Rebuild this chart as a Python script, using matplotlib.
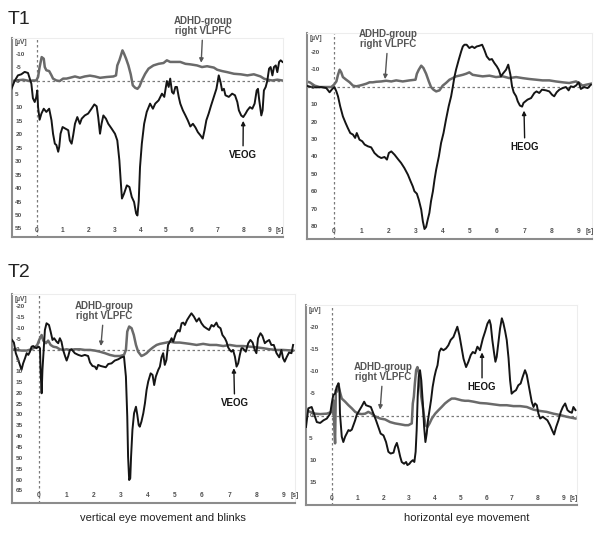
import matplotlib
matplotlib.use("Agg")
import matplotlib.pyplot as plt

plt.rcParams['font.family'] = ['Liberation Sans', 'DejaVu Sans']

# ---- T1, vertical eye movement (values in s / µV, negative up) ----
t1v_t = [-0.99, -0.87, -0.74, -0.61, -0.48, -0.35, -0.22, -0.16, -0.09, -0.03, 0.01, 0.04, 0.10, 0.17, 0.26,
         0.36, 0.47, 0.56, 0.62, 0.69, 0.75, 0.82, 0.86, 0.91, 0.99, 1.08, 1.21, 1.27, 1.34, 1.40, 1.47, 1.56,
         1.66, 1.73, 1.85, 1.98, 2.11, 2.22, 2.31, 2.37, 2.44, 2.50, 2.57, 2.67, 2.76, 2.89, 3.02, 3.11, 3.19,
         3.24, 3.29, 3.37, 3.48, 3.58, 3.67, 3.76, 3.84, 3.89, 3.94, 3.99, 4.06, 4.15, 4.25, 4.38, 4.49, 4.58,
         4.71, 4.84, 4.93, 5.03, 5.10, 5.16, 5.23, 5.29, 5.36, 5.42, 5.49, 5.55, 5.65, 5.75, 5.84, 5.94, 6.04,
         6.14, 6.23, 6.33, 6.42, 6.49, 6.56, 6.65, 6.74, 6.85, 6.95, 7.04, 7.11, 7.17, 7.24, 7.30, 7.43, 7.56,
         7.67, 7.76, 7.82, 7.91, 7.99, 8.08, 8.15, 8.25, 8.34, 8.43, 8.51, 8.56, 8.61, 8.69, 8.74, 8.79, 8.86,
         8.92, 8.99, 9.05, 9.12, 9.18, 9.25, 9.31, 9.38, 9.44, 9.51]
t1v_eog = [2.9, 0, -2.1, -2.5, -3.4, -3.0, 1.0, 6.4, 7.8, 6.0, 3.5, 9.7, 14.4, 12.1, 10.3,
           11.5, 10.3, 14.6, 19.6, 23.3, 23.8, 26.3, 24.5, 19.6, 17.1, 17.6, 18.3, 22.1, 23.3, 20.2, 15.9, 13.4,
           15.9, 14.0, 12.8, 12.1, 10.3, 8.7, 9.4, 13.4, 19.6, 15.9, 12.8, 14.0, 15.9, 17.7, 19.6, 22.1, 29.5,
           36.9, 43.7, 41.9, 38.8, 39.4, 43.1, 45.0, 49.3, 50.0, 44.6, 32.0, 23.3, 15.9, 11.5, 8.4, 10.3, 8.4,
           7.2, 4.7, 5.9, 0, 2.2, -0.9, 4.1, 4.7, 2.2, 2.2, 5.9, 8.4, 10.9, 12.8, 14.6, 16.9, 15.9,
           17.3, 19.0, 20.2, 21.4, 18.3, 14.6, 12.1, 9.2, 5.9, 2.9, -2.1, 0.4, 3.5, 2.9, 5.3, 5.9, 4.7,
           5.3, 7.8, 10.9, 12.8, 13.4, 12.1, 10.9, 9.7, 10.3, 8.4, 3.5, 2.9, 7.2, 12.8, 10.9, 3.5, 2.2,
           0, -4.6, -5.2, -2.1, -5.2, -5.8, -3.3, -7.1, -7.7, -7.1]
t1v_grp_t = [-0.99, -0.80, -0.54, -0.29, -0.16, -0.03, 0.04, 0.10, 0.18, 0.26, 0.30, 0.36, 0.47, 0.56, 0.62,
             0.75, 0.88, 1.01, 1.14, 1.27, 1.47, 1.66, 1.85, 2.05, 2.24, 2.44, 2.70, 2.96, 3.06, 3.11, 3.19,
             3.24, 3.31, 3.37, 3.45, 3.54, 3.63, 3.71, 3.80, 3.89, 3.97, 4.06, 4.19, 4.32, 4.51, 4.71, 4.90,
             5.03, 5.16, 5.36, 5.55, 5.75, 5.94, 6.20, 6.39, 6.59, 6.85, 6.98, 7.17, 7.37, 7.63, 7.89, 8.15,
             8.40, 8.66, 8.79, 8.92, 9.12, 9.31, 9.51]
t1v_grp = [0, -0.2, -0.5, 0, -0.2, -0.2, -1.5, -5.2, -8.9, -8.3, -5.2, -4.0, -3.7, -2.1, -0.9,
           -0.2, 0, -0.9, -0.9, -1.2, -1.7, -1.2, -1.7, -2.0, -1.7, -1.2, -1.5, -1.7, -2.1, -5.8, -7.7,
           -9.2, -11.4, -10.2, -8.3, -5.8, -2.5, 1.6, 2.5, 2.9, 2.0, -0.2, -2.7, -4.6, -5.8, -6.4, -6.7,
           -7.7, -7.1, -7.1, -7.1, -6.4, -6.2, -5.8, -5.2, -5.5, -5.0, -4.2, -3.7, -3.3, -2.7, -2.5, -2.1,
           -2.5, -1.7, -0.9, -0.5, -0.2, -0.5, -0.2]

# ---- T1, horizontal eye movement ----
t1h_t = [-1.02, -0.83, -0.65, -0.47, -0.28, -0.16, -0.06, 0.02, 0.09, 0.15, 0.23, 0.33, 0.43, 0.51, 0.60,
         0.70, 0.78, 0.84, 0.94, 1.04, 1.13, 1.25, 1.37, 1.49, 1.62, 1.74, 1.86, 1.95, 2.02, 2.11, 2.23,
         2.35, 2.47, 2.59, 2.72, 2.82, 2.90, 2.96, 3.05, 3.12, 3.21, 3.27, 3.33, 3.39, 3.45, 3.51, 3.57,
         3.64, 3.70, 3.76, 3.86, 3.94, 4.03, 4.12, 4.22, 4.31, 4.37, 4.43, 4.49, 4.59, 4.68, 4.74, 4.80,
         4.88, 4.98, 5.08, 5.17, 5.25, 5.35, 5.45, 5.53, 5.62, 5.72, 5.81, 5.90, 5.99, 6.06, 6.14, 6.23,
         6.33, 6.41, 6.49, 6.55, 6.61, 6.70, 6.76, 6.84, 6.92, 6.97, 7.04, 7.12, 7.25, 7.37, 7.45, 7.55,
         7.65, 7.80, 7.92, 8.02, 8.10, 8.19, 8.29, 8.41, 8.53, 8.63, 8.71, 8.80, 8.90, 9.00, 9.08, 9.20,
         9.33, 9.45]
t1h_eog = [-0.8, 0, 0.2, 0, 0.6, 3.0, 1.1, 0, 2.5, 5.3, 11.0, 16.8, 20.6, 23.4, 26.3,
           27.2, 29.1, 26.3, 30.1, 31.0, 32.9, 33.9, 34.5, 37.7, 39.6, 40.6, 40.0, 41.5, 37.7, 36.8, 38.7,
           41.1, 43.4, 46.3, 50.1, 53.9, 56.8, 59.6, 61.0, 64.4, 70.1, 76.8, 81.2, 80.0, 75.8, 72.0, 65.3,
           59.6, 52.9, 47.2, 39.6, 32.0, 26.3, 18.7, 11.0, 5.3, 0, -5.7, -9.9, -15.6, -20.4, -23.2, -24.2,
           -24.2, -22.3, -23.2, -22.3, -23.2, -23.6, -24.2, -21.3, -17.5, -15.6, -16.0, -13.7, -11.8, -9.9, -6.1, -8.0,
           -9.9, -12.8, -7.0, -0.4, 3.0, 5.3, 8.2, 10.6, 11.2, 9.1, 8.2, 7.2, 6.3, 3.4, 2.5, 3.4,
           1.5, 1.9, 2.5, 4.4, 5.3, 3.0, 1.5, 0.6, 0, 1.9, -0.4, 0, -0.8, -2.7, 1.1, 0,
           0.6, -1.3]
t1h_grp_t = [-1.02, -0.89, -0.71, -0.53, -0.28, -0.10, 0.00, 0.09, 0.15, 0.21, 0.27, 0.33, 0.45, 0.58, 0.70,
             0.82, 0.94, 1.06, 1.19, 1.31, 1.43, 1.55, 1.74, 1.92, 2.11, 2.29, 2.53, 2.78, 3.00, 3.05, 3.12,
             3.21, 3.29, 3.39, 3.49, 3.57, 3.66, 3.76, 3.88, 4.00, 4.12, 4.25, 4.37, 4.49, 4.61, 4.74, 4.86,
             4.98, 5.10, 5.29, 5.47, 5.72, 5.96, 6.21, 6.45, 6.70, 6.94, 7.18, 7.43, 7.67, 7.92, 8.16, 8.41,
             8.65, 8.90, 9.02, 9.14, 9.27, 9.45]
t1h_grp = [-3.2, -2.7, -0.8, 0, 0, 0, -1.3, -3.2, -7.0, -9.9, -8.4, -5.7, -4.2, -2.7, -0.8,
           -0.4, -0.8, -1.3, -1.9, -2.7, -2.7, -3.0, -3.2, -3.6, -3.2, -3.8, -3.2, -3.8, -4.2, -7.6, -9.9,
           -12.2, -10.9, -7.6, -3.2, 0, 1.5, 2.5, 1.9, -0.8, -2.3, -4.2, -5.1, -6.1, -6.5, -7.0, -7.6,
           -8.4, -7.0, -6.5, -6.1, -6.5, -5.7, -6.1, -5.1, -5.7, -5.1, -4.6, -4.2, -3.8, -3.8, -3.2, -2.7,
           -2.3, -3.2, -2.3, -0.8, -1.3, -1.9]

# ---- T2, vertical eye movement and blinks ----
t2v_t = [-0.99, -0.92, -0.85, -0.76, -0.70, -0.64, -0.58, -0.51, -0.45, -0.39, -0.33, -0.27, -0.21, -0.15, -0.09,
         -0.02, 0.04, 0.06, 0.10, 0.13, 0.18, 0.22, 0.28, 0.37, 0.43, 0.50, 0.56, 0.65, 0.71, 0.77, 0.83,
         0.89, 0.96, 1.02, 1.08, 1.14, 1.20, 1.32, 1.45, 1.57, 1.69, 1.81, 1.88, 1.97, 2.06, 2.12, 2.18,
         2.27, 2.37, 2.46, 2.55, 2.67, 2.79, 2.92, 3.04, 3.13, 3.20, 3.25, 3.28, 3.32, 3.36, 3.39, 3.44,
         3.50, 3.57, 3.62, 3.67, 3.71, 3.77, 3.84, 3.90, 3.96, 4.02, 4.11, 4.18, 4.24, 4.30, 4.39, 4.45,
         4.51, 4.57, 4.63, 4.69, 4.75, 4.82, 4.88, 4.94, 5.04, 5.12, 5.18, 5.25, 5.31, 5.37, 5.45, 5.53,
         5.61, 5.70, 5.80, 5.89, 5.98, 6.07, 6.16, 6.26, 6.35, 6.43, 6.53, 6.59, 6.68, 6.75, 6.84, 6.90,
         6.96, 7.02, 7.08, 7.14, 7.21, 7.27, 7.33, 7.39, 7.45, 7.50, 7.61, 7.70, 7.78, 7.86, 7.94, 8.00,
         8.06, 8.15, 8.22, 8.31, 8.37, 8.47, 8.55, 8.64, 8.74, 8.84, 8.92, 8.98, 9.04, 9.11, 9.20, 9.29,
         9.35]
t2v_eog = [-4.6, -3.4, 1.5, 4.6, 6.9, 9.2, 6.2, 3.8, 1.5, 2.3, 0.8, -1.5, -1.8, -1.2, -0.8,
           -1.5, -0.8, 9.2, 20.0, 9.2, -1.5, -9.2, -12.3, -11.5, -8.5, -4.6, -5.4, -3.8, -3.1, -5.4, -3.8,
           0, 2.8, 4.9, 2.8, 0, -0.3, 1.5, 2.3, 2.8, 2.3, 2.8, 5.8, 7.4, 7.7, 8.9, 6.9,
           7.4, 7.7, 8.0, 6.5, 6.2, 4.9, 4.3, 3.4, 3.1, 12.3, 30.8, 49.2, 60.0, 59.2, 49.2, 36.9,
           29.2, 26.2, 30.0, 34.6, 35.4, 33.1, 29.2, 24.6, 18.5, 14.6, 10.8, 11.5, 16.2, 12.3, 9.2, 7.7,
           3.4, 1.5, 6.9, 4.6, -2.3, -3.8, -5.4, -3.8, -7.7, -9.2, -8.5, -12.3, -12.6, -11.5, -13.8, -15.4,
           -16.9, -15.4, -13.1, -14.6, -12.3, -10.8, -10.0, -9.2, -11.5, -10.8, -12.6, -10.8, -10.0, -6.9, -5.4, -3.8,
           -1.2, 0, 0.8, 0, 3.1, 7.7, 6.2, 2.3, -0.8, -0.8, 0.8, -3.1, -4.6, -3.4, 0, 1.5,
           -5.4, -7.7, -6.5, -3.1, -3.8, -4.6, -2.3, -2.3, 1.5, 3.4, 0, 3.8, 5.4, 3.4, 1.2, 1.5,
           -2.3]
t2v_grp_t = [-0.99, -0.82, -0.64, -0.45, -0.27, -0.15, -0.06, 0.01, 0.10, 0.16, 0.26, 0.34, 0.43, 0.53, 0.65,
             0.77, 0.89, 1.02, 1.14, 1.32, 1.51, 1.69, 1.88, 2.06, 2.24, 2.43, 2.61, 2.79, 2.98, 3.13, 3.20,
             3.25, 3.32, 3.41, 3.49, 3.57, 3.65, 3.77, 3.86, 3.96, 4.08, 4.20, 4.33, 4.45, 4.57, 4.69, 4.82,
             5.00, 5.18, 5.37, 5.55, 5.80, 6.04, 6.29, 6.53, 6.78, 7.02, 7.27, 7.51, 7.76, 8.00, 8.25, 8.49,
             8.74, 8.98, 9.35]
t2v_grp = [-0.3, 0, 0.3, 0.3, -0.3, -1.2, -2.3, -4.6, -6.9, -4.3, -3.1, -4.3, -2.3, -1.5, -1.2,
           -0.3, 0, -0.3, 0, -0.3, -0.3, 0, 0, 0.3, 0.8, 1.5, 2.3, 2.8, 2.8, 2.3, 0,
           -8.5, -10.8, -10.0, -6.9, -2.3, 0.8, 2.8, 2.3, 1.5, 0, -1.2, -2.3, -2.8, -3.1, -3.4, -3.8,
           -3.4, -3.4, -3.1, -2.8, -2.3, -2.8, -2.3, -2.3, -1.8, -2.3, -1.8, -1.8, -1.5, -1.2, -0.8, -0.3,
           0, 0, 0.3]

# ---- T2, horizontal eye movement ----
t2h_t = [-1.00, -0.91, -0.78, -0.69, -0.58, -0.45, -0.32, -0.19, -0.06, 0.00, 0.06, 0.13, 0.19, 0.26, 0.30,
         0.32, 0.39, 0.45, 0.52, 0.58, 0.65, 0.71, 0.78, 0.84, 0.91, 0.97, 1.08, 1.17, 1.26, 1.33, 1.42,
         1.52, 1.62, 1.72, 1.81, 1.90, 2.01, 2.11, 2.20, 2.29, 2.40, 2.46, 2.53, 2.59, 2.66, 2.72, 2.81,
         2.89, 2.94, 3.02, 3.07, 3.15, 3.21, 3.26, 3.30, 3.34, 3.38, 3.43, 3.48, 3.54, 3.59, 3.64, 3.69,
         3.74, 3.80, 3.86, 3.92, 3.99, 4.05, 4.11, 4.18, 4.25, 4.34, 4.44, 4.53, 4.62, 4.73, 4.81, 4.88,
         4.96, 5.03, 5.12, 5.22, 5.31, 5.40, 5.48, 5.57, 5.66, 5.76, 5.87, 5.96, 6.05, 6.13, 6.18, 6.24,
         6.31, 6.36, 6.41, 6.48, 6.54, 6.61, 6.67, 6.74, 6.80, 6.87, 6.93, 6.99, 7.06, 7.16, 7.25, 7.34,
         7.42, 7.51, 7.58, 7.64, 7.71, 7.77, 7.84, 7.90, 7.97, 8.03, 8.10, 8.20, 8.29, 8.38, 8.48, 8.56,
         8.64, 8.72, 8.81, 8.90, 8.98, 9.07, 9.16, 9.24, 9.33, 9.39, 9.47]
t2h_eog = [2.5, -1.7, -2.0, -0.5, 1.4, 1.6, 1.0, 0.6, -0.5, -2.8, -4.7, -5.0, -6.5, -7.3, -5.8,
           -0.5, 4.7, 5.9, 4.7, 4.0, 3.2, 3.4, 3.1, 2.1, 1.0, -0.2, -1.3, -2.2, -3.2, -2.4, -2.2,
           -2.0, -0.5, 1.0, 2.5, 4.0, 4.4, 5.9, 8.1, 8.5, 8.3, 7.0, 6.1, 7.4, 9.2, 10.4, 10.8,
           10.4, 11.1, 10.8, 10.4, 10.0, 10.4, 8.1, 3.2, -4.3, -8.8, -10.3, -8.0, -2.8, 2.5, 5.9, 4.0,
           1.0, -1.3, -3.6, -6.5, -8.8, -10.3, -11.4, -14.4, -15.2, -14.8, -15.2, -15.9, -17.1, -17.8, -19.0, -20.1,
           -18.2, -15.9, -12.9, -11.0, -12.2, -13.7, -14.4, -14.1, -15.6, -14.8, -17.4, -19.0, -20.8, -21.6, -20.5, -17.1,
           -14.1, -12.2, -13.3, -16.7, -19.7, -22.0, -20.9, -19.0, -17.1, -13.0, -8.0, -5.0, -5.4, -5.8, -6.9, -7.3,
           -8.8, -10.3, -9.2, -7.3, -5.0, -3.2, -2.0, -2.8, -2.4, -0.5, 0.6, 0.2, 0.6, 1.0, 2.1, 3.2,
           4.2, 2.5, 1.0, -0.9, -2.0, -2.8, -1.3, -0.9, -0.7, -2.0, -1.3]
t2h_grp_t = [-1.00, -0.84, -0.65, -0.45, -0.19, 0.00, 0.06, 0.10, 0.13, 0.16, 0.19, 0.26, 0.30, 0.39, 0.52,
             0.65, 0.78, 0.91, 1.04, 1.17, 1.30, 1.42, 1.55, 1.68, 1.88, 2.07, 2.27, 2.46, 2.66, 2.85, 2.98,
             3.11, 3.15, 3.19, 3.23, 3.28, 3.33, 3.38, 3.43, 3.48, 3.54, 3.59, 3.64, 3.72, 3.80, 3.89, 4.02,
             4.15, 4.27, 4.40, 4.53, 4.66, 4.79, 4.92, 5.05, 5.18, 5.31, 5.51, 5.76, 6.02, 6.28, 6.54, 6.80,
             7.06, 7.32, 7.58, 7.84, 8.10, 8.35, 8.61, 8.87, 9.13, 9.47]
t2h_grp = [-1.3, -0.9, -0.5, -0.4, -0.5, -0.9, -3.5, 2.5, 6.2, -5.8, -5.4, -7.3, -5.8, -3.9, -3.2,
           -2.4, -1.7, -0.9, -0.5, -0.4, -0.5, -0.9, -0.5, 0.1, 0.6, 0.8, 1.4, 1.7, 1.9, 2.1, 2.1,
           1.7, -2.8, -4.3, -7.3, -10.3, -11.0, -9.9, -7.3, -4.3, -2.0, 0.2, 2.1, 2.5, 1.7, 0.6, -0.5,
           -1.3, -2.0, -2.8, -3.4, -3.9, -3.9, -3.7, -3.5, -3.4, -3.4, -3.2, -2.9, -2.8, -2.6, -2.4, -2.4,
           -2.2, -2.2, -2.0, -1.4, -1.1, -0.9, -0.5, -0.2, 0.2, 0.6]

x_labels = list(range(10))
y_labels_t1v = [-10, -5, 0, 5, 10, 15, 20, 25, 30, 35, 40, 45, 50, 55]
y_labels_t1h = [-20, -10, 0, 10, 20, 30, 40, 50, 60, 70, 80]
y_labels_t2v = [-20, -15, -10, -5, 0, 5, 10, 15, 20, 25, 30, 35, 40, 45, 50, 55, 60, 65]
y_labels_t2h = [-20, -15, -10, -5, 0, 5, 10, 15]

BLACK = '#151515'
GREY = '#6a6a6a'
LABEL = '#505050'

W, H = 600, 539
fig = plt.figure(figsize=(6, 5.39), dpi=100)


def px_axes(left, top, right, bottom):
    return fig.add_axes([left / W, 1 - bottom / H, (right - left) / W, (bottom - top) / H])


def panel(ax, t_eog, eog, t_grp, grp, xlim, ylim, ylabels):
    ax.plot(t_grp, grp, color=GREY, lw=1.8, zorder=2)
    ax.plot(t_eog, eog, color=BLACK, lw=1.4, zorder=3)
    ax.axhline(0, color='#7a7a7a', lw=0.9, ls=(0, (2, 2)), zorder=1)
    ax.axvline(0, color='#7a7a7a', lw=0.9, ls=(0, (2, 2)), zorder=1)
    ax.set_xlim(*xlim)
    ax.set_ylim(*ylim)
    ax.set_xticks([])
    ax.set_yticks([])
    for s in ['left', 'bottom']:
        ax.spines[s].set_color('#8c8c8c')
        ax.spines[s].set_linewidth(1.5)
    for s in ['top', 'right']:
        ax.spines[s].set_color('#ededed')
        ax.spines[s].set_linewidth(0.8)
    xt = ax.get_xaxis_transform()
    for s in x_labels:
        ax.text(s, 0.035, str(s), transform=xt, ha='center', va='center',
                fontsize=4.8, fontweight='bold', color=LABEL)
    ax.text(9.42, 0.035, '[s]', transform=xt, ha='center', va='center',
            fontsize=4.8, fontweight='bold', color=LABEL)
    yt = ax.get_yaxis_transform()
    for v in ylabels:
        ax.text(0.012, v, str(v), transform=yt, ha='left', va='center',
                fontsize=4.6, fontweight='bold', color=LABEL)
    ax.text(0.008, 0.975, '[µV]', transform=ax.transAxes, ha='left', va='center',
            fontsize=4.8, fontweight='bold', color=LABEL)


def note(ax, text, xy, xytext, color):
    ax.annotate(text, xy=xy, xytext=xytext, ha='center', va='center',
                fontsize=7, fontweight='bold', color=color, linespacing=1.05,
                annotation_clip=False, zorder=5,
                arrowprops=dict(arrowstyle='-|>', color=color, lw=1.0,
                                mutation_scale=6, shrinkA=1, shrinkB=0))


ax1 = px_axes(12, 38, 283, 237)
panel(ax1, t1v_t, t1v_eog, t1v_grp_t, t1v_grp, (-0.97, 9.53), (58, -16), y_labels_t1v)
note(ax1, 'ADHD-group\nright VLPFC', (6.36, -6.8), (6.43, -20.5), '#555555')
note(ax1, 'VEOG', (7.99, 14.8), (7.98, 27.5), BLACK)

ax2 = px_axes(307, 33, 592, 239)
panel(ax2, t1h_t, t1h_eog, t1h_grp_t, t1h_grp, (-0.99, 9.49), (86.9, -30.9), y_labels_t1h)
note(ax2, 'ADHD-group\nright VLPFC', (1.88, -4.5), (1.99, -27.4), '#555555')
note(ax2, 'HEOG', (6.99, 13.5), (7.02, 34.3), BLACK)

ax3 = px_axes(12, 294, 295, 503)
panel(ax3, t2v_t, t2v_eog, t2v_grp_t, t2v_grp, (-0.99, 9.42), (70.6, -25.8), y_labels_t2v)
note(ax3, 'ADHD-group\nright VLPFC', (2.28, -1.8), (2.39, -18.0), '#555555')
note(ax3, 'VEOG', (7.17, 8.4), (7.2, 24.5), BLACK)

ax4 = px_axes(306, 305, 577, 505)
panel(ax4, t2h_t, t2h_eog, t2h_grp_t, t2h_grp, (-1.0, 9.53), (20.1, -25.0), y_labels_t2h)
note(ax4, 'ADHD-group\nright VLPFC', (1.88, -1.4), (1.99, -9.9), '#555555')
note(ax4, 'HEOG', (5.84, -14.3), (5.84, -6.5), BLACK)

fig.text(8 / W, 1 - 20 / H, 'T1', fontsize=14, ha='left', va='center', color='#222222')
fig.text(8 / W, 1 - 273 / H, 'T2', fontsize=14, ha='left', va='center', color='#222222')
fig.text(163 / W, 1 - 518 / H, 'vertical eye movement and blinks', fontsize=8,
         ha='center', va='center', color='#222222')
fig.text(467 / W, 1 - 518 / H, 'horizontal eye movement', fontsize=8,
         ha='center', va='center', color='#222222')

fig.savefig('out.png', dpi=100)
